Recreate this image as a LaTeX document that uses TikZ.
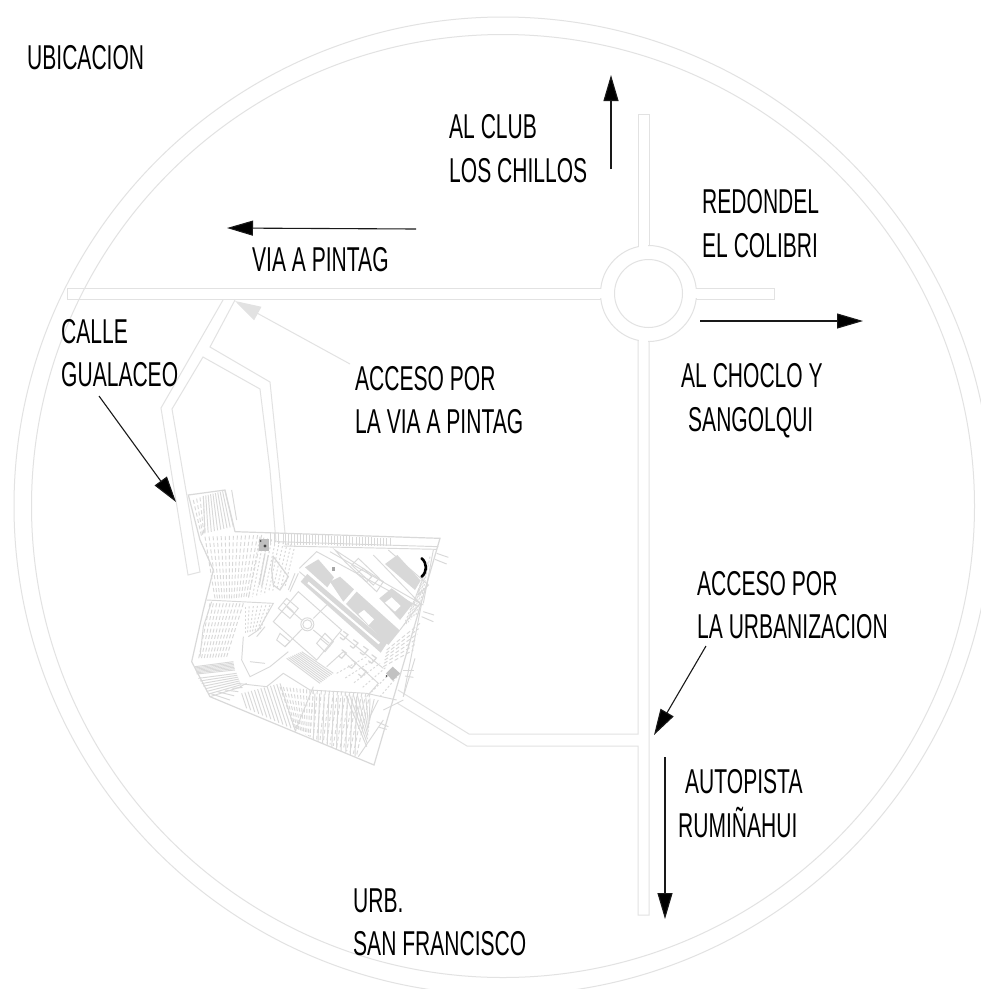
\documentclass[tikz,border=0pt]{standalone}
\usepackage{fontspec}
\setmainfont[FakeStretch=0.61]{Liberation Sans}
\usetikzlibrary{arrows.meta,calc}
\definecolor{roadgrey}{HTML}{E2E2E2}
\definecolor{sitegrey}{HTML}{D9D9D9}
\definecolor{blockgrey}{HTML}{D8D8D8}
\tikzset{
  road/.style={draw=roadgrey,line width=1pt},
  ring/.style={draw=roadgrey,line width=1pt},
  lbl/.style={anchor=base west,inner sep=0pt,text=black,font=\fontsize{34.5}{38}\selectfont},
  pointer/.style={draw=black!90,line width=1.1pt,-{Triangle[length=26pt,width=15pt,fill=black]}},
  paleptr/.style={draw=roadgrey,line width=1pt,-{Triangle[length=26pt,width=15pt,fill=roadgrey]}},
  site/.style={draw=sitegrey,line width=.95pt},
  dash1/.style={site,dash pattern=on 4pt off 2.5pt},
  dash2/.style={site,dash pattern=on 2pt off 2pt},
}
% interpolated hatch: from A--B to C--D, n steps
\newcommand{\myhatch}[6][site]{%
  \foreach \i in {0,...,#6}{%
    \pgfmathsetmacro{\hT}{\i/#6}%
    \draw[#1] ($(#2)!\hT!(#3)$) -- ($(#4)!\hT!(#5)$);}}
\begin{document}
\begin{tikzpicture}[x=1pt,y=-1pt]
\useasboundingbox (0,0) rectangle (981,989);
\clip (0,0) rectangle (981,989);
\fill[white] (0,0) rectangle (981,989);
% circles
\draw[ring] (503,506) circle[radius=489pt];
\draw[ring] (503,506) circle[radius=471.5pt];
% roundabout
\draw[road] (648.5,293.5) circle[radius=48pt];
\fill[white] (595,289) rectangle (606,298);
\fill[white] (691,289) rectangle (702,298);
\fill[white] (639,240) rectangle (648,252);
\fill[white] (639,335) rectangle (648,347);
\draw[road] (648.5,293.5) circle[radius=34pt];
% main roads
\draw[road] (601,288) -- (67,288) -- (67,299) -- (601,299);
\draw[road] (696,288) -- (774,288) -- (774,299) -- (696,299);
\draw[road] (638,246.7) -- (638,114) -- (649,114) -- (649,245.5);
\draw[road] (649,341.5) -- (649,915) -- (638,915) -- (638,746) -- (467,746) -- (397,703);
\draw[road] (638,340.3) -- (638,734) -- (469,734) -- (398,690);
% Calle Gualaceo
\draw[road] (223,300) -- (161,408) -- (188,575) -- (200,572) -- (172,409) -- (203,357) -- (260,389) -- (270,470) -- (276,542);
\draw[road] (235,300) -- (210,347) -- (270,382) -- (279,470) -- (285,533);
% site plan, in 3x crop coordinates
\begin{scope}[shift={(170,470)},x=.33333pt,y=-.33333pt]
\draw[site,line width=1.2pt] (195,185) -- (810,205) -- (612,885) -- (120,680) -- (65,575) -- (100,420) -- (130,300) -- (90,210) -- (55,75) -- (165,60) -- (195,185);
\draw[site] (320,215) -- (805,230);
\draw[site] (340,228) -- (800,238);
\draw[site] (185,60) -- (200,150);
% right ticks
\foreach \a/\b/\c/\d in {800/250/835/262,795/268/830/282,760/425/792/435,755/440/790/455,700/600/733/600,705/618/730/622,735/565/700/680,620/755/655/770,628/772/650/778,790/240/760/400,755/400/700/680,565/860/640/750}
  \draw[site] (\a,\b) -- (\c,\d);
% top band hatch
\myhatch{345,190}{660,205}{345,225}{660,228}{34}
\myhatch{300,190}{340,190}{300,225}{340,222}{3}
% buildings
\fill[blockgrey] (392,335) -- (412,312) -- (652,518) -- (632,548) -- cycle;
\fill[white] (412,340) -- (416,335) -- (630,518) -- (626,523) -- cycle;
\fill[blockgrey] (405,292) -- (445,268) -- (492,322) -- (472,352) -- cycle;
\fill[blockgrey] (480,335) -- (510,320) -- (552,358) -- (520,395) -- cycle;
\fill[blockgrey] (528,402) -- (560,365) -- (690,482) -- (655,525) -- cycle;
\fill[white] (565,432) -- (582,420) -- (612,448) -- (596,465) -- cycle;
\fill[blockgrey] (645,282) -- (682,255) -- (752,332) -- (735,360) -- cycle;
\fill[blockgrey] (628,385) -- (665,355) -- (728,402) -- (690,450) -- cycle;
\fill[white] (645,398) -- (665,382) -- (692,408) -- (675,425) -- cycle;
% building surrounds
\draw[site] (388,295) -- (440,245) -- (745,410);
\draw[site] (388,305) -- (640,520);
\draw[site] (480,245) -- (760,405);
\draw[site] (495,240) -- (640,335) -- (620,365) -- (525,275) -- cycle;
\draw[site] (545,285) -- (565,265) -- (628,325) -- (610,345) -- cycle;
\draw[site] (560,310) -- (580,295) -- (605,320) -- (590,335) -- cycle;
\draw[site] (655,240) -- (775,345) -- (745,375);
\draw[site] (610,255) -- (750,400) -- (690,480);
% plaza
\draw[site] (385,365) -- (515,480) -- (440,570) -- (310,455) -- cycle;
\draw[site] (412,463) circle[radius=6.5pt];
\draw[site] (412,463) circle[radius=4.5pt];
\draw[site] (350,410) -- (395,450);
\draw[site] (430,480) -- (478,520);
\draw[site] (395,478) -- (345,530);
\draw[site] (430,445) -- (470,405);
\draw[site] (350,385) -- (385,415) -- (360,445) -- (325,415) -- cycle;
\draw[site] (340,398) -- (370,425);
\draw[site] (465,490) -- (490,515) -- (465,545) -- (440,520) -- cycle;
\draw[site] (450,505) -- (480,530);
\draw[site] (330,490) -- (360,515) -- (345,530) -- (320,510) -- cycle;
% small squares row
\foreach \a/\b in {520/510,550/535,580/555,605/580,515/565,545/595,575/620}
  \draw[site,line width=1.2pt] (\a,\b) -- ++(14,-16) -- ++(-14,-10) (\a,\b) -- ++(-10,-8);
\draw[site] (470,590) -- (520,545) -- (625,640) -- (590,680);
\draw[site] (510,490) -- (640,595);
% loop feature
\draw[site,line width=1.2pt] (295,255) -- (275,350);
\draw[site,line width=1.2pt] (285,250) -- (268,345);
\draw[site,line width=1.2pt] (310,260) -- (355,320) -- (330,360) -- (310,345) -- (305,300) -- cycle;
\draw[site] (385,310) -- (360,365);
\draw[site] (375,310) -- (355,360);
% left lobes
\myhatch{100,78}{165,62}{105,190}{190,170}{9}
\myhatch[dash1]{70,90}{100,78}{95,200}{105,190}{3}
\myhatch[dash1]{105,200}{275,195}{135,385}{235,385}{14}
\myhatch[dash2]{270,200}{375,225}{235,385}{345,350}{9}
\draw[site] (110,390) -- (310,400) -- (265,480) -- (235,500);
\draw[site] (125,395) -- (100,470) -- (90,560);
\myhatch[dash1]{120,400}{220,400}{85,570}{170,560}{10}
\draw[site] (220,500) -- (215,570) -- (240,620) -- (300,590) -- (355,545);
\draw[site] (240,575) -- (285,580);
\draw[site] (260,500) -- (285,470);
\myhatch[dash2]{225,410}{300,405}{225,490}{270,480}{6}
% bottom-left fan
\myhatch{75,590}{80,612}{190,575}{195,600}{6}
\myhatch{85,625}{120,680}{200,610}{215,650}{7}
\myhatch{120,670}{210,650}{180,690}{230,640}{4}
% middle contours
\myhatch{350,565}{395,545}{450,640}{490,610}{8}
\draw[site] (200,640) -- (290,650) -- (340,610) -- (420,660) -- (590,670) -- (680,690);
% bottom contours
\myhatch{215,670}{330,640}{230,715}{375,780}{12}
\myhatch[dash1]{330,650}{430,660}{375,780}{420,800}{10}
\draw[site] (430,650) -- (375,785);
\myhatch{435,670}{560,680}{430,810}{555,860}{9}
\myhatch[dash1]{430,660}{600,670}{420,800}{560,855}{14}
\myhatch{525,670}{625,690}{590,830}{600,740}{8}
% right-hand contours
\myhatch[dash1]{650,540}{640,590}{750,460}{730,540}{5}
\myhatch[dash2]{745,360}{780,260}{700,470}{745,430}{6}
\myhatch[dash2]{500,610}{630,680}{590,560}{690,610}{5}
\draw[site] (640,720) -- (700,690);
% dark marks
\fill[black!25] (268,208) rectangle (296,242);
\fill[black!75] (285,228) circle[radius=1.6pt];
\fill[black!70] (272,213) circle[radius=1pt];
\fill[black!35] (485,292) rectangle (495,304);
\fill[blockgrey!90!black] (648,610) -- (668,590) -- (690,610) -- (668,632) -- cycle;
\fill[black!70] (650,618) circle[radius=1pt];
\draw[black,line width=2.6pt,line cap=round] (755,265) .. controls (772,280) and (772,305) .. (755,320);
\end{scope}
% arrow endpoints
\coordinate (upA) at (611,169);   \coordinate (upB) at (611,75);
\coordinate (leftA) at (416,229); \coordinate (leftB) at (227,228);
\coordinate (rightA) at (700,321);\coordinate (rightB) at (863,321);
\coordinate (gualA) at (99,396);  \coordinate (gualB) at (176,502);
\coordinate (urbA) at (706,646);  \coordinate (urbB) at (654,735);
\coordinate (downA) at (665,757); \coordinate (downB) at (665,919);
\coordinate (paleA) at (350,364); \coordinate (paleB) at (235,301);
\draw[pointer] (upA) -- (upB);
\draw[pointer] (leftA) -- (leftB);
\draw[pointer] (rightA) -- (rightB);
\draw[pointer] (gualA) -- (gualB);
\draw[pointer] (urbA) -- (urbB);
\draw[pointer] (downA) -- (downB);
\draw[paleptr] (paleA) -- (paleB);
% labels
\node[lbl] (ubic) at (27,69) {UBICACION};
\node[lbl] (club1) at (449,138) {AL CLUB};
\node[lbl] (club2) at (449,182) {LOS CHILLOS};
\node[lbl] (red1) at (702,213) {REDONDEL};
\node[lbl] (red2) at (702,257) {EL COLIBRI};
\node[lbl] (via) at (252,271) {VIA A PINTAG};
\node[lbl] (cal1) at (61,343) {CALLE};
\node[lbl] (cal2) at (61,386) {GUALACEO};
\node[lbl] (acc1) at (355,390) {ACCESO POR};
\node[lbl] (acc2) at (355,433) {LA VIA A PINTAG};
\node[lbl] (cho1) at (681,387) {AL CHOCLO Y};
\node[lbl] (cho2) at (688,431) {SANGOLQUI};
\node[lbl] (urb1) at (697,595) {ACCESO POR};
\node[lbl] (urb2) at (697,638) {LA URBANIZACION};
\node[lbl] (aut1) at (685,793) {AUTOPISTA};
\node[lbl] (aut2) at (678,837) {RUMIÑAHUI};
\node[lbl] (fra1) at (353,912) {URB.};
\node[lbl] (fra2) at (353,955) {SAN FRANCISCO};
\end{tikzpicture}
\end{document}
